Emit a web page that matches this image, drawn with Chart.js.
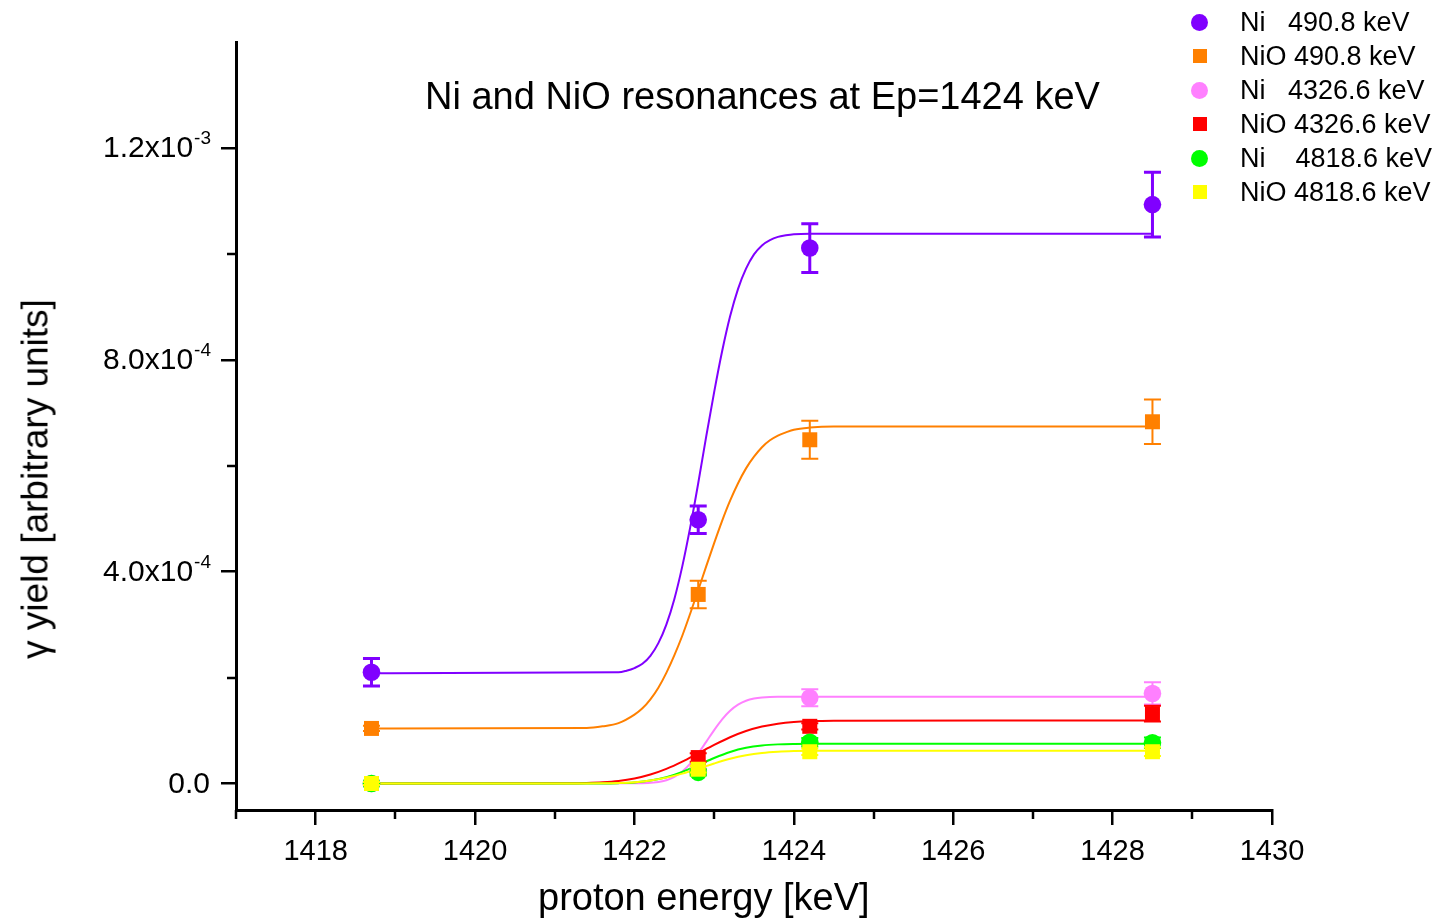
<!DOCTYPE html>
<html><head><meta charset="utf-8">
<script src="https://cdn.jsdelivr.net/npm/chart.js@4.4.1/dist/chart.umd.min.js"></script>
<style>
html,body{margin:0;padding:0;background:#fff;}
#wrap{position:relative;width:1439px;height:920px;overflow:hidden;}
#c{position:absolute;left:0;top:0;}
.lbl{position:absolute;font-family:"Liberation Sans",Arial,sans-serif;white-space:nowrap;color:#000;}
#title{left:425px;top:77px;font-size:38px;line-height:38px;}
#xtitle{left:538px;top:878px;font-size:38px;line-height:38px;}
#ytitle{left:35px;top:479px;font-size:37px;line-height:37px;transform:translate(-50%,-50%) rotate(-90deg);}
#legend{position:absolute;left:1188px;top:5px;font-family:"Liberation Sans",Arial,sans-serif;font-size:27px;color:#000;}
.row{position:relative;height:34px;line-height:34px;white-space:pre;}
.mk{position:absolute;top:50%;}
.txt{position:absolute;left:52px;top:0;}
</style></head>
<body>
<div id="wrap">
<canvas id="c" width="1439" height="920"></canvas>
<div id="title" class="lbl">Ni and NiO resonances at Ep=1424 keV</div>
<div id="xtitle" class="lbl">proton energy [keV]</div>
<div id="ytitle" class="lbl">&gamma; yield [arbitrary units]</div>
<div id="legend"></div>
</div>
<script>
// ---------------- data ----------------
const energies = [1418.7, 1422.8, 1424.2, 1428.5];

const seriesNames = ["Ni   490.8 keV", "NiO 490.8 keV", "Ni   4326.6 keV", "NiO 4326.6 keV", "Ni    4818.6 keV", "NiO 4818.6 keV"];
const seriesColors = ["#8000FF", "#FF8000", "#FF80FF", "#FF0000", "#00FF00", "#FFFF00"];
const seriesMarkers = ["circle", "rect", "circle", "rect", "circle", "rect"];

const ni490 = [2.10e-4, 4.98e-4, 1.011e-3, 1.093e-3];
const ni490Err = [2.6e-5, 2.6e-5, 4.6e-5, 6.1e-5];
const nio490 = [1.04e-4, 3.57e-4, 6.49e-4, 6.83e-4];
const nio490Err = [5e-6, 2.6e-5, 3.6e-5, 4.2e-5];
const ni4326 = [0, 2.5e-5, 1.62e-4, 1.70e-4];
const ni4326Err = [3e-6, 8e-6, 1.6e-5, 2.1e-5];
const nio4326 = [0, 4.9e-5, 1.08e-4, 1.32e-4];
const nio4326Err = [3e-6, 8e-6, 6e-6, 1.5e-5];
const ni4818 = [0, 2.1e-5, 7.8e-5, 7.7e-5];
const ni4818Err = [3e-6, 6e-6, 8e-6, 1.0e-5];
const nio4818 = [0, 2.7e-5, 6.0e-5, 6.0e-5];
const nio4818Err = [3e-6, 6e-6, 6e-6, 8e-6];

// fitted curves (x in keV, y in units of 1e-4)
const fitNi490X = [1418.7, 1421.8, 1421.9, 1422.0, 1422.1, 1422.2, 1422.3, 1422.4, 1422.5, 1422.6, 1422.7, 1422.8, 1422.9, 1423.0, 1423.1, 1423.2, 1423.3, 1423.4, 1423.5, 1423.6, 1423.7, 1423.8, 1423.9, 1424.0, 1424.2, 1428.5];
const fitNi490Y = [2.08, 2.10, 2.13, 2.18, 2.26, 2.41, 2.65, 3.00, 3.48, 4.10, 4.84, 5.67, 6.55, 7.39, 8.16, 8.82, 9.34, 9.72, 9.99, 10.16, 10.26, 10.32, 10.35, 10.37, 10.38, 10.38];
const fitNiO490X = [1418.7, 1421.4, 1421.6, 1421.8, 1422.0, 1422.1, 1422.2, 1422.3, 1422.4, 1422.5, 1422.6, 1422.7, 1422.8, 1422.9, 1423.0, 1423.1, 1423.2, 1423.3, 1423.4, 1423.5, 1423.6, 1423.7, 1423.8, 1423.9, 1424.0, 1424.2, 1424.5, 1428.5];
const fitNiO490Y = [1.04, 1.05, 1.08, 1.14, 1.30, 1.42, 1.59, 1.81, 2.09, 2.42, 2.79, 3.21, 3.65, 4.10, 4.54, 4.96, 5.34, 5.67, 5.95, 6.17, 6.35, 6.48, 6.57, 6.63, 6.68, 6.72, 6.74, 6.74];
const fitNi4326X = [1418.7, 1422.0, 1422.3, 1422.4, 1422.5, 1422.6, 1422.7, 1422.8, 1422.9, 1423.0, 1423.1, 1423.2, 1423.3, 1423.4, 1423.5, 1423.6, 1423.8, 1428.5];
const fitNi4326Y = [0, 0.005, 0.028, 0.062, 0.125, 0.227, 0.376, 0.567, 0.786, 1.009, 1.211, 1.373, 1.489, 1.562, 1.604, 1.625, 1.638, 1.64];
const fitNiO4326X = [1418.7, 1421.2, 1421.4, 1421.6, 1421.8, 1422.0, 1422.2, 1422.4, 1422.6, 1422.8, 1423.0, 1423.2, 1423.4, 1423.6, 1423.8, 1424.0, 1424.2, 1424.5, 1428.5];
const fitNiO4326Y = [0, 0.003, 0.009, 0.022, 0.048, 0.095, 0.170, 0.277, 0.414, 0.571, 0.730, 0.874, 0.991, 1.076, 1.130, 1.162, 1.178, 1.187, 1.19];
const fitNi4818X = [1418.7, 1421.6, 1421.8, 1422.0, 1422.2, 1422.4, 1422.6, 1422.8, 1423.0, 1423.2, 1423.4, 1423.6, 1423.8, 1424.0, 1424.3, 1428.5];
const fitNi4818Y = [0, 0.002, 0.007, 0.021, 0.055, 0.119, 0.220, 0.348, 0.481, 0.595, 0.674, 0.718, 0.739, 0.747, 0.75, 0.75];
const fitNiO4818X = [1418.7, 1421.4, 1421.6, 1421.8, 1422.0, 1422.2, 1422.4, 1422.6, 1422.8, 1423.0, 1423.2, 1423.4, 1423.6, 1423.8, 1424.0, 1424.3, 1428.5];
const fitNiO4818Y = [0, 0.001, 0.004, 0.011, 0.026, 0.058, 0.111, 0.187, 0.280, 0.378, 0.466, 0.533, 0.577, 0.601, 0.613, 0.62, 0.62];
const fitUnit = 1e-4;

// axes
const xMajorTicks = [1418, 1420, 1422, 1424, 1426, 1428, 1430];
const xMinorTicks = [1417, 1419, 1421, 1423, 1425, 1427, 1429];
const yMajorTicks = [0, 4e-4, 8e-4, 1.2e-3];
const yTickMantissa = ["0.0", "4.0x10", "8.0x10", "1.2x10"];
const yTickExponent = ["", "-4", "-4", "-3"];
const yMinorTicks = [2e-4, 6e-4, 1e-3];

// --------------- build ----------------
const values = [ni490, nio490, ni4326, nio4326, ni4818, nio4818];
const errs = [ni490Err, nio490Err, ni4326Err, nio4326Err, ni4818Err, nio4818Err];
const fitsX = [fitNi490X, fitNiO490X, fitNi4326X, fitNiO4326X, fitNi4818X, fitNiO4818X];
const fitsY = [fitNi490Y, fitNiO490Y, fitNi4326Y, fitNiO4326Y, fitNi4818Y, fitNiO4818Y];
const errWidths = [3, 2, 2, 2, 2, 2];

const datasets = [];
seriesNames.forEach((name, i) => {
  datasets.push({
    label: name + " fit",
    type: 'line',
    data: fitsX[i].map((x, k) => ({x: x, y: fitsY[i][k] * fitUnit})),
    borderColor: seriesColors[i],
    borderWidth: 2,
    pointRadius: 0,
    fill: false,
    cubicInterpolationMode: 'monotone',
    order: 20 - i
  });
  datasets.push({
    label: name,
    type: 'scatter',
    data: energies.map((x, k) => ({x: x, y: values[i][k]})),
    errors: errs[i],
    errLineWidth: errWidths[i],
    borderColor: seriesColors[i],
    backgroundColor: seriesColors[i],
    pointStyle: seriesMarkers[i],
    pointRadius: seriesMarkers[i] === 'circle' ? 8.8 : 10.6,
    pointBorderWidth: 0,
    showLine: false,
    order: 10 - i
  });
});

const FONT = '"Liberation Sans", Arial, sans-serif';

const errorBars = {
  id: 'errorBars',
  afterDatasetDraw(chart, args) {
    const ds = chart.data.datasets[args.index];
    if (!ds.errors) return;
    const ctx = chart.ctx, xs = chart.scales.x, ys = chart.scales.y;
    ctx.save();
    ctx.strokeStyle = ds.borderColor;
    ctx.lineWidth = ds.errLineWidth;
    const cap = 8.5;
    ds.data.forEach((p, k) => {
      const e = ds.errors[k];
      const px = xs.getPixelForValue(p.x);
      const yt = ys.getPixelForValue(p.y + e);
      const yb = ys.getPixelForValue(p.y - e);
      ctx.beginPath();
      ctx.moveTo(px, yt); ctx.lineTo(px, yb);
      ctx.moveTo(px - cap, yt); ctx.lineTo(px + cap, yt);
      ctx.moveTo(px - cap, yb); ctx.lineTo(px + cap, yb);
      ctx.stroke();
    });
    ctx.restore();
  }
};

const axisExtras = {
  id: 'axisExtras',
  afterDraw(chart) {
    const ctx = chart.ctx, xs = chart.scales.x, ys = chart.scales.y, a = chart.chartArea;
    ctx.save();
    ctx.strokeStyle = '#000';
    ctx.lineWidth = 2.5;
    ctx.beginPath();
    xMinorTicks.forEach(v => {
      const px = Math.round(xs.getPixelForValue(v));
      ctx.moveTo(px, a.bottom); ctx.lineTo(px, a.bottom + 9);
    });
    yMinorTicks.forEach(v => {
      const py = Math.round(ys.getPixelForValue(v));
      ctx.moveTo(a.left, py); ctx.lineTo(a.left - 9, py);
    });
    ctx.stroke();
    // y tick labels with superscript exponents
    ctx.fillStyle = '#000';
    const right = a.left - 25;
    yMajorTicks.forEach((v, i) => {
      const py = ys.getPixelForValue(v);
      ctx.font = '19px ' + FONT;
      const we = yTickExponent[i] ? ctx.measureText(yTickExponent[i]).width : 0;
      ctx.textAlign = 'left';
      ctx.textBaseline = 'alphabetic';
      if (we) ctx.fillText(yTickExponent[i], right - we, py - 4);
      ctx.font = '30px ' + FONT;
      ctx.textAlign = 'right';
      ctx.textBaseline = 'middle';
      ctx.fillText(yTickMantissa[i], right - we - 1, py + 1);
    });
    ctx.restore();
  }
};

Chart.defaults.font.family = FONT;
Chart.defaults.color = '#000';

new Chart(document.getElementById('c'), {
  type: 'scatter',
  data: {datasets: datasets},
  options: {
    responsive: false,
    animation: false,
    events: [],
    layout: {padding: {left: 0, top: 42, right: 167, bottom: 0}},
    plugins: {legend: {display: false}, tooltip: {enabled: false}},
    scales: {
      x: {
        type: 'linear', min: 1417, max: 1430,
        afterBuildTicks: s => { s.ticks = xMajorTicks.map(v => ({value: v})); },
        afterFit: s => { s.height = 110; },
        border: {display: true, color: '#000', width: 3},
        grid: {display: true, drawOnChartArea: false, drawTicks: true, tickLength: 15, color: '#000', lineWidth: 2.5},
        ticks: {font: {size: 29}, padding: 10, maxRotation: 0, callback: v => String(v)},
        title: {display: false}
      },
      y: {
        type: 'linear', min: -5e-5, max: 1.4e-3,
        afterBuildTicks: s => { s.ticks = yMajorTicks.map(v => ({value: v})); },
        afterFit: s => { s.width = 236; },
        border: {display: true, color: '#000', width: 3},
        grid: {display: true, drawOnChartArea: false, drawTicks: true, tickLength: 15, color: '#000', lineWidth: 2.5},
        ticks: {font: {size: 30}, padding: 3, color: 'rgba(0,0,0,0)', callback: (v, i) => yTickMantissa[i] + (yTickExponent[i] ? '^' + yTickExponent[i] : '')},
        title: {display: false}
      }
    }
  },
  plugins: [errorBars, axisExtras]
});

// HTML legend built from series arrays
const leg = document.getElementById('legend');
seriesNames.forEach((name, i) => {
  const row = document.createElement('div');
  row.className = 'row';
  const mk = document.createElement('div');
  mk.className = 'mk';
  if (seriesMarkers[i] === 'circle') {
    mk.style.cssText = 'left:3px;width:17px;height:17px;margin-top:-8.5px;border-radius:50%;background:' + seriesColors[i];
  } else {
    mk.style.cssText = 'left:5px;width:14px;height:14px;margin-top:-7px;background:' + seriesColors[i];
  }
  const t = document.createElement('span');
  t.className = 'txt';
  t.textContent = name;
  row.appendChild(mk); row.appendChild(t);
  leg.appendChild(row);
});
</script>
</body></html>
